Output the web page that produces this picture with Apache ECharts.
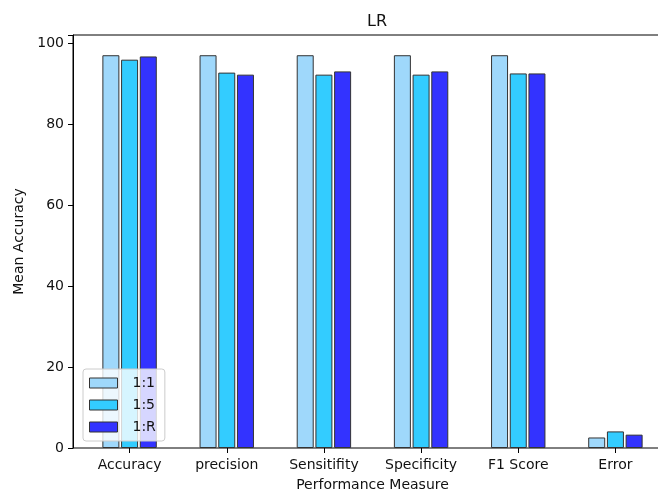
<!DOCTYPE html>
<html style="height: 100%">
    <head>
        <meta charset="utf-8">
    </head>
    <body style="height: 100%; margin: 0">
        <div id="container" style="width: 658px; height: 493px"></div>

        <script type="text/javascript" src="https://cdn.jsdelivr.net/npm/echarts@6/dist/echarts.min.js"></script>
        <script type="text/javascript">

var categories = ['Accuracy', 'precision', 'Sensitifity', 'Specificity', 'F1 Score', 'Error'];
var seriesNames = ['1:1', '1:5', '1:R'];
var ratio11 = [97.1, 97.1, 97.1, 97.1, 97.1, 2.6];
var ratio15 = [96.0, 92.8, 92.3, 92.3, 92.6, 4.1];
var ratio1R = [96.8, 92.3, 93.1, 93.1, 92.6, 3.3];
var yTicks = [0, 20, 40, 60, 80, 100];

var dom = document.getElementById("container");
var myChart = echarts.init(dom);

var font = 'DejaVu Sans';
var colors = ['#9fd8fb', '#33ccff', '#3333ff'];
var values = [ratio11, ratio15, ratio1R];

var option = {
    animation: false,
    textStyle: { fontFamily: font },
    title: {
        text: 'LR',
        left: 372,
        top: 9,
        textAlign: 'center',
        textStyle: { fontFamily: font, fontSize: 16, fontWeight: 'normal', color: '#111' }
    },
    legend: {
        orient: 'vertical',
        left: 83,
        top: 369,
        data: seriesNames,
        icon: 'rect',
        itemWidth: 28,
        itemHeight: 10,
        itemGap: 8,
        padding: [7, 9, 7, 6],
        backgroundColor: 'rgba(255,255,255,0.8)',
        borderColor: '#cccccc',
        borderWidth: 1,
        borderRadius: 3,
        itemStyle: { borderColor: '#333', borderWidth: 1 },
        textStyle: { fontFamily: font, fontSize: 14, color: '#111', padding: [0, 0, 0, 10] }
    },
    grid: [
        { left: 73, top: 35, width: 598, height: 413, outerBoundsMode: 'none', containLabel: false,
          show: true, borderColor: '#000', borderWidth: 1, backgroundColor: 'transparent' },
        { left: 81, top: 35, width: 583, height: 413, outerBoundsMode: 'none', containLabel: false }
    ],
    xAxis: [
        { gridIndex: 0, type: 'value', min: 0, max: 1, show: false },
        {
            gridIndex: 1,
            type: 'category',
            data: categories,
            axisLine: { show: false },
            axisTick: { show: true, alignWithLabel: true, length: 5, lineStyle: { color: '#000' } },
            axisLabel: { fontFamily: font, fontSize: 14, color: '#111', margin: 10 },
            name: 'Performance Measure',
            nameLocation: 'middle',
            nameGap: 30,
            nameTextStyle: { fontFamily: font, fontSize: 14, color: '#111' }
        }
    ],
    yAxis: [
        {
            gridIndex: 0,
            type: 'value',
            min: 0,
            max: 102.1,
            interval: 20,
            axisLine: { show: true, lineStyle: { color: '#000' } },
            axisTick: { show: true, length: 5, lineStyle: { color: '#000' } },
            axisLabel: {
                fontFamily: font, fontSize: 14, color: '#111', margin: 9,
                formatter: function (v) { return yTicks.indexOf(v) >= 0 ? String(v) : ''; }
            },
            splitLine: { show: false },
            name: 'Mean Accuracy',
            nameLocation: 'middle',
            nameGap: 43,
            nameTextStyle: { fontFamily: font, fontSize: 14, color: '#111' }
        },
        { gridIndex: 1, type: 'value', min: 0, max: 102.1, show: false }
    ],
    series: seriesNames.map(function (name, i) {
        return {
            name: name,
            type: 'bar',
            xAxisIndex: 1,
            yAxisIndex: 1,
            data: values[i],
            barWidth: 17,
            barGap: '10%',
            itemStyle: { color: colors[i], borderColor: '#333', borderWidth: 1 }
        };
    })
};

if (option && typeof option === 'object') {
    myChart.setOption(option);
}

        </script>
    </body>
</html>
